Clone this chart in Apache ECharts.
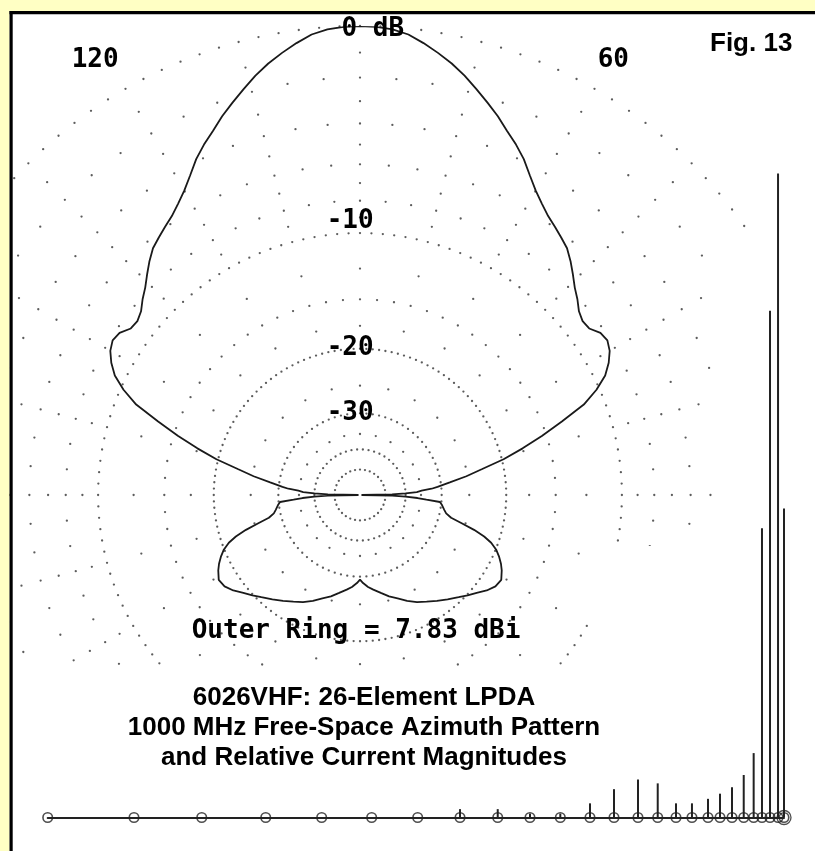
<!DOCTYPE html>
<html><head><meta charset="utf-8">
<script src="https://cdn.jsdelivr.net/npm/echarts@6/dist/echarts.min.js"></script>
<style>html,body{margin:0;padding:0;background:#fff;}#c{width:815px;height:851px;}</style>
</head><body><div id="c"></div>
<script>
// ---------- pattern data (azimuth angle in degrees, relative gain in dB) ----------
const FRONT_ANGLES = [0,1,2,3,4,5,6,8,10,12,14,16,18,20,22,24,26,28,30,32,34,36,38,40,42,44,46,48,50,52,54,56,58,60,62,64,66,68,70,72,74,76,78,80,82,84,86,88,90,
  92,94,96,98,100,102,104,106,108,110,112,114,116,118,120,122,124,126,128,130,132,134,136,138,140,142,144,146,148,150,152,154,156,158,160,162,164,166,168,170,172,174,175,176,177,178,179,180];
const FRONT_DB = [-99,-46,-40,-36.2,-34.8,-32.2,-30.8,-28.2,-25.2,-22.7,-19.8,-17.5,-15.4,-13.4,-11.4,-10.2,-9.3,-8.75,-8.35,-8.15,-8.25,-8.65,-8.7,-8.5,-8.1,-7.75,-7.3,-6.85,-6.45,-6.2,-5.95,-5.7,-5.35,-4.95,-4.45,-3.9,-3.45,-3.05,-2.6,-2.2,-1.8,-1.4,-1.05,-0.75,-0.47,-0.22,-0.08,-0.02,0,
  -0.02,-0.08,-0.22,-0.47,-0.75,-1.05,-1.4,-1.8,-2.2,-2.6,-3.05,-3.45,-3.9,-4.45,-4.95,-5.35,-5.7,-5.95,-6.2,-6.45,-6.85,-7.3,-7.75,-8.1,-8.5,-8.7,-8.65,-8.25,-8.15,-8.35,-8.75,-9.3,-10.2,-11.4,-13.4,-15.4,-17.5,-19.8,-22.7,-25.2,-28.2,-30.8,-32.2,-34.8,-36.2,-40,-46,-99];
const BACK_ANGLES = [181,182,183,184,185,187,190,192,194,195.5,197,198.5,200,202,204,206,208,211,214,217,220,223,226,230,234,238,242,246,250,254,258,262,265,268,270,
  272,275,278,282,286,290,294,298,302,306,310,314,317,320,323,326,329,332,334,336,338,340,341.5,343,344.5,346,348,350,353,355,356,357,358,359,360];
const BACK_DB = [-46,-40,-36,-33.5,-30.3,-29.8,-29.2,-28.7,-27.6,-25.6,-23.5,-21.9,-20.8,-19.9,-19.3,-18.8,-18.4,-17.95,-18.1,-18.6,-19.3,-19.9,-20.5,-21.2,-21.9,-22.6,-23.2,-24.0,-24.9,-25.6,-26.5,-27.3,-27.9,-28.7,-29.4,
  -28.7,-27.9,-27.3,-26.5,-25.6,-24.9,-24.0,-23.2,-22.6,-21.9,-21.2,-20.5,-19.9,-19.3,-18.6,-18.1,-17.95,-18.4,-18.8,-19.3,-19.9,-20.8,-21.9,-23.5,-25.6,-27.6,-28.7,-29.2,-29.8,-30.3,-33.5,-36,-40,-46,-99];

// ---------- polar grid (ARRL log scale) ----------
const RING_DB = [0, -10, -20, -30, -40, -50];
const RING_DOT_STEP = [2.5, 2.5, 2.5, 4.5, 7.2, 11.25];
const MAJOR_RADIAL_DB = [-1,-2,-3,-4,-5,-6,-7,-8,-9,-12.5,-15,-17.5,-25,-35];
const MINOR_RADIAL_DB = [-2,-4,-6,-8,-15];
const RADIAL_STEP = 5, MAJOR_EVERY = 15;
const RING_LABELS = ['0 dB', '-10', '-20', '-30'];
const ANGLE_LABELS = ['120', '60'];
const OUTER_RING_TEXT = 'Outer Ring = 7.83 dBi';

// ---------- relative current magnitudes ----------
const ELEMENT_POS = [0,11.72,20.92,29.61,37.21,44.00,50.25,56.00,61.12,65.50,69.62,73.65,76.91,80.17,82.85,85.33,87.50,89.68,91.31,92.94,94.53,95.88,97.01,98.10,99.19,100];
const CURRENT_MAG = [0,0,0,0,0,0,0,0.013,0.013,0.006,0.006,0.022,0.044,0.059,0.053,0.022,0.022,0.029,0.037,0.047,0.066,0.100,0.449,0.787,1.000,0.480];
const FEED_INDEX = 25;

const TITLE_LINES = ['6026VHF: 26-Element LPDA', '1000 MHz Free-Space Azimuth Pattern', 'and Relative Current Magnitudes'];
const FIG_LABEL = 'Fig. 13';

// ARRL log-periodic radial scale: radius factor 0.89 per 2 dB
function arrl(db) { return Math.pow(0.89, -db / 2); }

const patternData = FRONT_ANGLES.map((a, i) => [arrl(FRONT_DB[i]), a])
  .concat(BACK_ANGLES.map((a, i) => [arrl(BACK_DB[i]), a]));

const gridDots = [];
RING_DB.forEach((db, i) => {
  const st = RING_DOT_STEP[i];
  for (let a = 0; a < 360 - 1e-6; a += st) gridDots.push([arrl(db), a]);
});
for (let a = 0; a < 360; a += RADIAL_STEP) {
  const lv = (a % MAJOR_EVERY === 0) ? MAJOR_RADIAL_DB : MINOR_RADIAL_DB;
  lv.forEach(db => gridDots.push([arrl(db), a]));
}

const MONO = 'bold 26px "DejaVu Sans Mono"';
const SANSB = 'bold 26px "Liberation Sans"';
function txt(text, x, y, font, align) {
  return { type: 'text', z: 7, silent: true,
    style: { text: text, x: x, y: y, font: font, fill: '#000',
      align: align, textAlign: align, verticalAlign: 'middle', textVerticalAlign: 'middle' } };
}

const chart = echarts.init(document.getElementById('c'), null, { renderer: 'canvas' });
chart.setOption({
  animation: false,
  backgroundColor: '#ffffff',
  polar: { center: [360, 495], radius: 469 },
  angleAxis: { type: 'value', min: 0, max: 360, startAngle: 0, clockwise: false,
    axisLine: { show: false }, axisTick: { show: false }, axisLabel: { show: false }, splitLine: { show: false } },
  radiusAxis: { type: 'value', min: 0, max: 1,
    axisLine: { show: false }, axisTick: { show: false }, axisLabel: { show: false }, splitLine: { show: false } },
  grid: { left: 47.7, right: 31, top: 173.5, bottom: 33.5 },
  xAxis: { type: 'value', min: 0, max: 100, z: 5,
    axisLine: { show: true, onZero: false, lineStyle: { color: '#222', width: 2 } },
    axisTick: { show: false }, axisLabel: { show: false }, splitLine: { show: false } },
  yAxis: { type: 'value', min: 0, max: 1,
    axisLine: { show: false }, axisTick: { show: false }, axisLabel: { show: false }, splitLine: { show: false } },
  series: [
    { type: 'scatter', coordinateSystem: 'polar', data: gridDots, symbol: 'circle', symbolSize: 2.3,
      itemStyle: { color: '#333' }, silent: true, z: 1 },
    { type: 'line', coordinateSystem: 'polar', data: patternData, showSymbol: false, symbol: 'none',
      lineStyle: { color: '#1a1a1a', width: 1.8 }, silent: true, z: 5 },
    { type: 'custom', coordinateSystem: 'cartesian2d', z: 5, silent: true,
      data: ELEMENT_POS.map((p, i) => [p, CURRENT_MAG[i]]),
      renderItem: function (params, api) {
        const p0 = api.coord([api.value(0), 0]);
        const p1 = api.coord([api.value(0), api.value(1)]);
        return { type: 'line', shape: { x1: p0[0], y1: p0[1], x2: p1[0], y2: p1[1] },
          style: { stroke: '#222', lineWidth: 2 } };
      } },
    { type: 'scatter', coordinateSystem: 'cartesian2d', z: 6, silent: true,
      data: ELEMENT_POS.map(p => [p, 0]), symbol: 'circle', symbolSize: 9.5,
      itemStyle: { color: 'rgba(255,255,255,0)', borderColor: '#222', borderWidth: 1.6 } },
    { type: 'scatter', coordinateSystem: 'cartesian2d', z: 6, silent: true,
      data: [[ELEMENT_POS[FEED_INDEX], 0]], symbol: 'circle', symbolSize: 14,
      itemStyle: { color: 'rgba(255,255,255,0)', borderColor: '#222', borderWidth: 1.3 } }
  ],
  graphic: [
    { type: 'rect', z: 3, silent: true, shape: { x: 12, y: 666, width: 803, height: 185 }, style: { fill: '#fff' } },
    { type: 'rect', z: 3, silent: true, shape: { x: 590, y: 546, width: 225, height: 125 }, style: { fill: '#fff' } },
    { type: 'rect', z: 3, silent: true, shape: { x: 716, y: 236, width: 99, height: 315 }, style: { fill: '#fff' } },
    txt(RING_LABELS[0], 341.5, 29, MONO, 'left'),
    txt(RING_LABELS[1], 326.7, 221, MONO, 'left'),
    txt(RING_LABELS[2], 326.7, 348.3, MONO, 'left'),
    txt(RING_LABELS[3], 326.7, 413, MONO, 'left'),
    txt(ANGLE_LABELS[0], 71.7, 60.3, MONO, 'left'),
    txt(ANGLE_LABELS[1], 597.7, 60, MONO, 'left'),
    txt(OUTER_RING_TEXT, 191.7, 631.2, MONO, 'left'),
    txt(TITLE_LINES[0], 364, 697.5, SANSB, 'center'),
    txt(TITLE_LINES[1], 364, 727.7, SANSB, 'center'),
    txt(TITLE_LINES[2], 364, 758, SANSB, 'center'),
    txt(FIG_LABEL, 710, 44, SANSB, 'left'),
    { type: 'rect', z: 10, silent: true, shape: { x: 0, y: 0, width: 815, height: 11 }, style: { fill: '#ffffc4' } },
    { type: 'rect', z: 10, silent: true, shape: { x: 0, y: 0, width: 9.5, height: 851 }, style: { fill: '#ffffc4' } },
    { type: 'rect', z: 11, silent: true, shape: { x: 9.5, y: 11, width: 805.5, height: 3.3 }, style: { fill: '#000' } },
    { type: 'rect', z: 11, silent: true, shape: { x: 9.5, y: 11, width: 3.2, height: 840 }, style: { fill: '#000' } }
  ]
});
</script></body></html>
